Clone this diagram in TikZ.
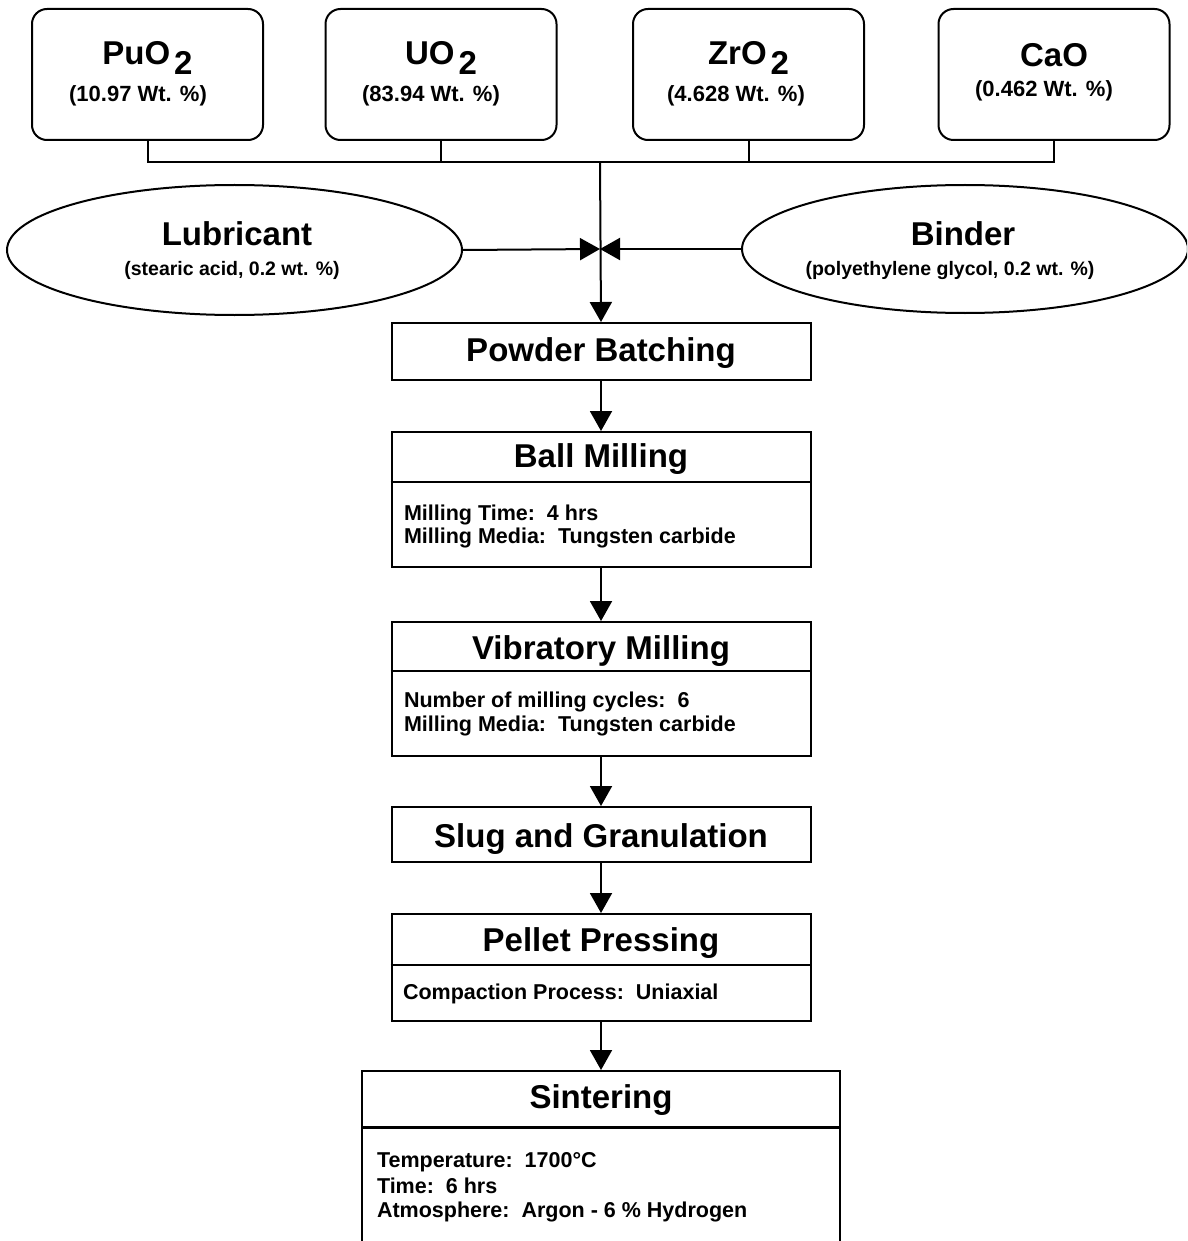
\documentclass[tikz,border=0pt]{standalone}
\usepackage{fontspec}
\setmainfont{Liberation Sans}
\usetikzlibrary{arrows.meta,shapes.geometric}
\begin{document}
\begin{tikzpicture}[x=1pt,y=-1pt,line width=2pt,
  rbox/.style={draw,rounded corners=15pt,minimum width=231pt,minimum height=131pt,inner sep=0pt},
  pbox/.style={draw,minimum width=419pt,inner sep=0pt},
  oval/.style={draw,ellipse,inner sep=0pt},
  ttl/.style={font=\fontsize{33}{37}\selectfont\bfseries,anchor=base,inner sep=0pt},
  sub/.style={font=\fontsize{22}{26}\selectfont\bfseries,anchor=base,inner sep=0pt},
  osub/.style={font=\fontsize{19.5}{23}\selectfont\bfseries,anchor=base,inner sep=0pt},
  body/.style={font=\fontsize{21.5}{25}\selectfont\bfseries,anchor=base west,inner sep=0pt},
  arr/.style={-{Triangle[length=20pt,width=22pt]}}]
\useasboundingbox (0,0) rectangle (1187,1241);
\clip (0,0) rectangle (1187,1241);

% top material boxes
\node[rbox] (pu) at (147.5,74.5) {};
\node[rbox] (uo) at (441,74.5) {};
\node[rbox] (zr) at (748.5,74.5) {};
\node[rbox] (ca) at (1054,74.5) {};
\node[ttl] (put) at (147.5,65) {PuO\hspace{4pt}\raisebox{-10pt}{2}};
\node[sub] (pus) at (138,102) {(10.97 Wt. \%)};
\node[ttl] (uot) at (441,65) {UO\hspace{4pt}\raisebox{-10pt}{2}};
\node[sub] (uos) at (431,102) {(83.94 Wt. \%)};
\node[ttl] (zrt) at (748.5,65) {ZrO\hspace{4pt}\raisebox{-10pt}{2}};
\node[sub] (zrs) at (736,102) {(4.628 Wt. \%)};
\node[ttl] (cat) at (1054,67) {CaO};
\node[sub] (cas) at (1044,97) {(0.462 Wt. \%)};

% collector line
\coordinate (junc) at (600,162);
\draw (pu.south) |- (ca.south |- junc) -- (ca.south);
\draw (uo.south) -- (uo.south |- junc);
\draw (zr.south) -- (zr.south |- junc);

% additive ellipses
\node[oval,minimum width=455pt,minimum height=130pt] (lub) at (234.5,250) {};
\node[ttl] (lubt) at (237,245) {Lubricant};
\node[osub] (lubs) at (232,276) {(stearic acid, 0.2 wt. \%)};
\node[oval,minimum width=446pt,minimum height=128pt] (bin) at (965,249) {};
\node[ttl] (bint) at (963,245) {Binder};
\node[osub] (bins) at (950,276) {(polyethylene glycol, 0.2 wt. \%)};
\coordinate (mid) at (600,249);
\draw[arr] (lub.east) -- (mid);
\draw[arr] (bin.west) -- (mid);

% process chain
\node[pbox,minimum height=57pt] (pb) at (601,351.5) {};
\node[ttl] (pbt) at (601,361) {Powder Batching};

\node[pbox,minimum height=135pt] (bm) at (601,499.5) {};
\draw (bm.west |- 0,482) -- (bm.east |- 0,482);
\node[ttl] (bmt) at (601,467) {Ball Milling};
\node[body] (bm1) at (403,520) {Milling Time:\ \ 4 hrs};
\node[body] (bm2) at (403,543) {Milling Media:\ \ Tungsten carbide};

\node[pbox,minimum height=134pt] (vm) at (601,689) {};
\draw (vm.west |- 0,671) -- (vm.east |- 0,671);
\node[ttl] (vmt) at (601,659) {Vibratory Milling};
\node[body] (vm1) at (403,707) {Number of milling cycles:\ \ 6};
\node[body] (vm2) at (403,731) {Milling Media:\ \ Tungsten carbide};

\node[pbox,minimum height=55pt] (sg) at (601,834.5) {};
\node[ttl] (sgt) at (601,847) {Slug and Granulation};

\node[pbox,minimum height=107pt] (pp) at (601,967.5) {};
\draw (pp.west |- 0,965) -- (pp.east |- 0,965);
\node[ttl] (ppt) at (601,951) {Pellet Pressing};
\node[body] (pp1) at (402,999) {Compaction Process:\ \ Uniaxial};

\node[draw,minimum width=478pt,minimum height=200pt,inner sep=0pt] (si) at (601,1171) {};
\draw[line width=3pt] (si.west |- 0,1127) -- (si.east |- 0,1127);
\node[ttl] (sit) at (601,1108) {Sintering};
\node[body] (si1) at (376,1167) {Temperature:\ \ 1700°C};
\node[body] (si2) at (376,1193) {Time:\ \ 6 hrs};
\node[body] (si3) at (376,1217) {Atmosphere:\ \ Argon - 6 \% Hydrogen};

% arrows
\draw[arr] (junc) -- (pb.north);
\draw[arr] (pb.south) -- (bm.north);
\draw[arr] (bm.south) -- (vm.north);
\draw[arr] (vm.south) -- (sg.north);
\draw[arr] (sg.south) -- (pp.north);
\draw[arr] (pp.south) -- (si.north);
\end{tikzpicture}
\end{document}
